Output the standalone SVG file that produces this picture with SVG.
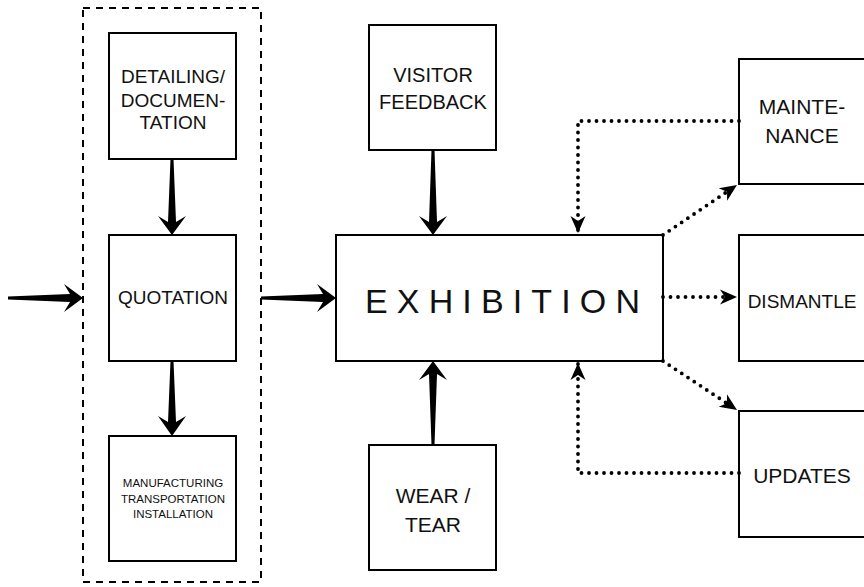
<svg xmlns="http://www.w3.org/2000/svg" width="864" height="587" viewBox="0 0 864 587">
<style>
.box{fill:#fff;stroke:#000;stroke-width:2}
.grp{fill:none;stroke:#000;stroke-width:2;stroke-dasharray:7 6}
.t{font-family:"Liberation Sans",Arial,sans-serif;fill:#111;text-anchor:middle}
.thick{fill:#000;stroke:none}
.dot{fill:none;stroke:#000;stroke-width:3.8;stroke-dasharray:0 7.5;stroke-linecap:round}
</style>
<defs>
<marker id="ah" markerUnits="userSpaceOnUse" markerWidth="18" markerHeight="18" viewBox="0 0 18 18" refX="17" refY="9" orient="auto">
<path d="M0,1.5 L17,9 L0,16.5 L5,9 z" fill="#000"/>
</marker>
</defs>
<rect width="864" height="587" fill="#fff"/>
<rect class="grp" x="83" y="8" width="178" height="574"/>

<g id="detailing">
<rect class="box" x="109" y="33" width="127" height="126"/>
<text class="t" font-size="19"><tspan x="173" y="83">DETAILING/</tspan><tspan x="173" y="107">DOCUMEN-</tspan><tspan x="173" y="129">TATION</tspan></text>
</g>
<g id="quotation">
<rect class="box" x="109" y="235" width="127" height="126"/>
<text class="t" font-size="19" x="173" y="304">QUOTATION</text>
</g>
<g id="manufacturing">
<rect class="box" x="109" y="436" width="127" height="125"/>
<text class="t" font-size="11.5"><tspan x="173" y="487">MANUFACTURING</tspan><tspan x="173" y="503">TRANSPORTATION</tspan><tspan x="173" y="518">INSTALLATION</tspan></text>
</g>
<g id="visitor">
<rect class="box" x="369" y="25" width="127" height="125"/>
<text class="t" font-size="20"><tspan x="433" y="82">VISITOR</tspan><tspan x="433" y="109">FEEDBACK</tspan></text>
</g>
<g id="exhibition">
<rect class="box" x="336" y="235" width="327" height="126"/>
<text font-family="'Liberation Sans',Arial,sans-serif" font-size="34" fill="#111" x="365" y="313" textLength="275" lengthAdjust="spacing">EXHIBITION</text>
</g>
<g id="weartear">
<rect class="box" x="369" y="445" width="127" height="125"/>
<text class="t" font-size="21"><tspan x="433" y="503">WEAR /</tspan><tspan x="433" y="532">TEAR</tspan></text>
</g>
<g id="maintenance">
<rect class="box" x="739" y="59" width="130" height="125"/>
<text class="t" font-size="21"><tspan x="802" y="114">MAINTE-</tspan><tspan x="802" y="143">NANCE</tspan></text>
</g>
<g id="dismantle">
<rect class="box" x="739" y="235" width="130" height="126"/>
<text class="t" font-size="19" x="802" y="308">DISMANTLE</text>
</g>
<g id="updates">
<rect class="box" x="739" y="411" width="130" height="126"/>
<text class="t" font-size="21" x="802" y="483">UPDATES</text>
</g>

<g id="connectors">
<polygon class="thick" points="170.5,159 173.5,159 176,222 186,216 172,235 158,216 168,222"/>
<polygon class="thick" points="170.5,361 173.5,361 176,422 186,416 172,436 158,416 168,422"/>
<polygon class="thick" points="8,296.5 8,299.5 70,302 64,312 83,298 64,284 70,294"/>
<polygon class="thick" points="261,296.5 261,299.5 323,302 317,312 336,298 317,284 323,294"/>
<polygon class="thick" points="431.5,150 434.5,150 437,222 447,216 433,235 419,216 429,222"/>
<polygon class="thick" points="431.5,445 434.5,445 437,374 447,380 433,361 419,380 429,374"/>
<path class="dot" d="M739,121 H578 V233" marker-end="url(#ah)"/>
<path class="dot" d="M663,235 L737,185" marker-end="url(#ah)"/>
<path class="dot" d="M663,297 H737" marker-end="url(#ah)"/>
<path class="dot" d="M663,361 L737,410" marker-end="url(#ah)"/>
<path class="dot" d="M739,473 H578 V363" marker-end="url(#ah)"/>
</g>
</svg>
